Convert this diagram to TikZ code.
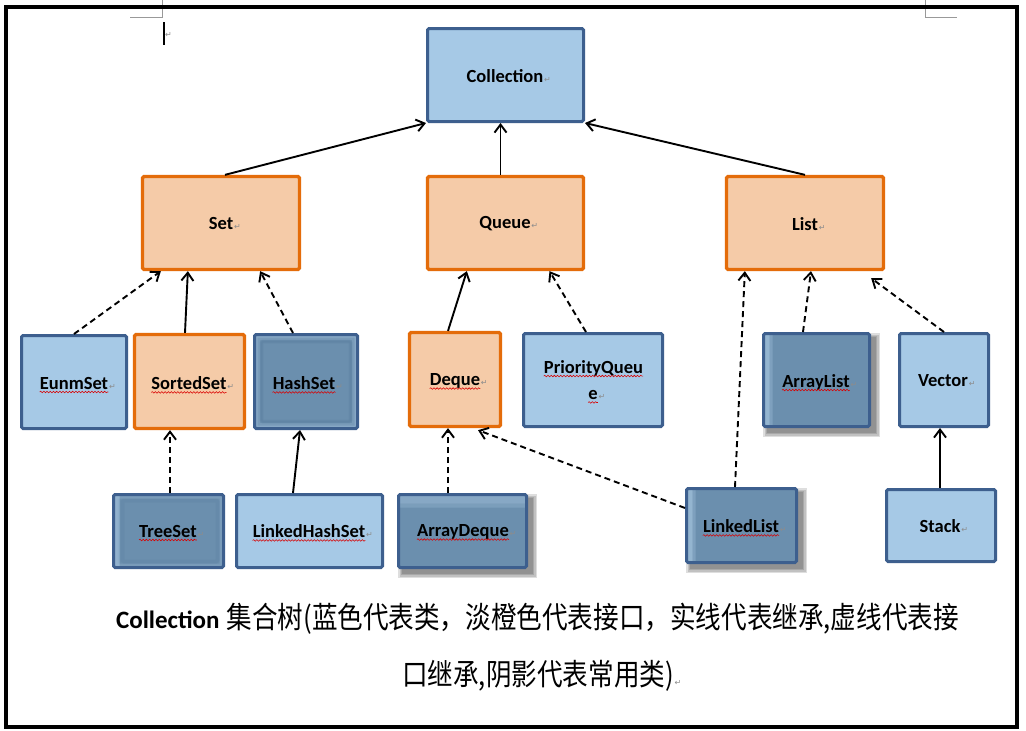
\documentclass[tikz,border=0pt]{standalone}
\usepackage{fontspec}
\setmainfont{Carlito}
\newfontfamily\cjk{Noto Sans CJK SC}
\newfontfamily\dejavu{DejaVu Sans}
\usetikzlibrary{arrows.meta,decorations.pathmorphing,backgrounds}
\definecolor{lblue}{HTML}{A6C9E6}
\definecolor{bborder}{HTML}{3D5F8E}
\definecolor{ofill}{HTML}{F5CBA8}
\definecolor{oborder}{HTML}{E46C0A}
\definecolor{dfill}{HTML}{6B8FAE}
\definecolor{dlight}{HTML}{A3C2DC}
\definecolor{ddark}{HTML}{4F7395}
\newcommand\mywave[1]{\draw[wavy] ([yshift=-3pt]#1.base west) -- ([yshift=-3pt]#1.base east);}
\newcommand\myret[1]{\node[retmark, anchor=base west] at ([xshift=0.5pt]#1.base east) {↵};}
\newcommand\softshadow[1]{%
  \begin{pgfonlayer}{background}
  \foreach \d in {4,2.5,1,0}{
    \fill[black, opacity=0.13] ([shift={({5-\d},{5-\d})}]#1.north west) rectangle ([shift={({5+\d},{5+\d})}]#1.south east);
  }
  \end{pgfonlayer}}
\begin{document}
\begin{tikzpicture}[x=1pt,y=-1pt,
  basebox/.style={rectangle, line width=3pt, inner sep=0pt, rounded corners=1.5pt},
  bluebox/.style={basebox, fill=lblue, draw=bborder},
  orangebox/.style={basebox, fill=ofill, draw=oborder, line width=3.3pt},
  darkbox/.style={basebox, fill=dfill, draw=bborder},
  glow/.style={path picture={
     \draw[dlight, line width=11pt, opacity=0.25] (path picture bounding box.south west) rectangle (path picture bounding box.north east);
     \draw[dlight, line width=6pt, opacity=0.35] (path picture bounding box.south west) rectangle (path picture bounding box.north east);
     \draw[ddark, line width=4pt, opacity=0.15] ([shift={(7,-7)}]path picture bounding box.south west) rectangle ([shift={(-7,7)}]path picture bounding box.north east);
     \draw[ddark, line width=2pt, opacity=0.2] ([shift={(7,-7)}]path picture bounding box.south west) rectangle ([shift={(-7,7)}]path picture bounding box.north east);
  }},
  leftlit/.style={path picture={
     \fill[dlight, opacity=0.75] (path picture bounding box.south west) rectangle ([xshift=6pt]path picture bounding box.north west);
     \fill[dlight, opacity=0.35] ([xshift=6pt]path picture bounding box.south west) rectangle ([xshift=9pt]path picture bounding box.north west);
  }},
  leftglow/.style={path picture={
     \draw[dlight, line width=8pt, opacity=0.25] (path picture bounding box.south west) rectangle (path picture bounding box.north east);
     \fill[dlight, opacity=0.6] (path picture bounding box.south west) rectangle ([xshift=6pt]path picture bounding box.north west);
     \draw[ddark, line width=4pt, opacity=0.15] ([shift={(9,-6)}]path picture bounding box.south west) rectangle ([shift={(-6,6)}]path picture bounding box.north east);
  }},
  toplit/.style={path picture={
     \fill[dlight, opacity=0.5] (path picture bounding box.north west) rectangle ([yshift=-9pt]path picture bounding box.north east);
     \fill[dlight, opacity=0.3] ([yshift=-9pt]path picture bounding box.north west) rectangle ([yshift=-13pt]path picture bounding box.north east);
  }},
  lbl/.style={inner sep=0pt, font=\bfseries\fontsize{18.5}{22}\selectfont, text=black},
  retmark/.style={inner sep=0pt, font=\dejavu\fontsize{8}{8}\selectfont, text=black!45},
  wavy/.style={red!85!black, line width=0.55pt, decorate, decoration={snake, amplitude=0.8pt, segment length=3.2pt}},
  inh/.style={line width=1.9pt, -{Straight Barb[length=8pt,width=12pt,line width=1.9pt]}},
  iface/.style={inh, dash pattern=on 6pt off 4pt},
]
\useasboundingbox (0,0) rectangle (1026,731);
\begin{pgfonlayer}{background}
\fill[white] (0,0) rectangle (1026,731);
\end{pgfonlayer}

% Word page artefacts
\coordinate (tl1) at (130,17); \coordinate (tl2) at (162,17); \coordinate (tl3) at (162,0);
\draw[black!40, line width=1pt] (tl1) -- (tl2) -- (tl3);
\coordinate (tr1) at (925,0); \coordinate (tr2) at (925,17); \coordinate (tr3) at (957,17);
\draw[black!40, line width=1pt] (tr1) -- (tr2) -- (tr3);
\coordinate (cur1) at (164,22); \coordinate (cur2) at (164,45);
\draw[black, line width=2pt] (cur1) -- (cur2);
\node[retmark] (curret) at (168.5,34.5) {↵};

% boxes
\node[bluebox, minimum width=156, minimum height=93] (coll) at (505.5,75) {};
\node[orangebox, minimum width=157, minimum height=93] (set) at (221,223) {};
\node[orangebox, minimum width=156, minimum height=93] (queue) at (505.5,223) {};
\node[orangebox, minimum width=157, minimum height=93] (list) at (805,223) {};
\node[bluebox, minimum width=105, minimum height=93] (eunm) at (74,382) {};
\node[orangebox, minimum width=110, minimum height=94] (sorted) at (189.5,381.5) {};
\node[darkbox, glow, minimum width=103, minimum height=94] (hash) at (306,381.5) {};
\node[orangebox, minimum width=91, minimum height=94] (deque) at (455,379.5) {};
\node[bluebox, minimum width=139, minimum height=93] (pq) at (593,380) {};
\node[darkbox, leftlit, minimum width=106, minimum height=93] (alist) at (816.5,380) {};
\node[bluebox, minimum width=89, minimum height=93] (vector) at (944,380) {};
\node[darkbox, leftglow, minimum width=110, minimum height=73] (tree) at (168.5,531) {};
\node[bluebox, minimum width=146, minimum height=73] (lhs) at (309.5,531) {};
\node[darkbox, toplit, minimum width=128, minimum height=73] (adeque) at (462.5,531) {};
\node[darkbox, leftlit, minimum width=110, minimum height=74] (llist) at (741.5,525.5) {};
\node[bluebox, minimum width=109, minimum height=72] (stack) at (941,525.5) {};

\softshadow{alist}
\softshadow{adeque}
\softshadow{llist}

% labels
\node[lbl] (collT) at (505,76) {Collection}; \myret{collT}
\node[lbl] (setT) at (221,223) {Set}; \myret{setT}
\node[lbl] (queueT) at (505,224) {Queue}; \myret{queueT}
\node[lbl] (listT) at (805,224) {List}; \myret{listT}
\node[lbl] (eunmT) at (74,383) {EunmSet}; \myret{eunmT} \mywave{eunmT}
\node[lbl] (sortedT) at (189,383) {SortedSet}; \myret{sortedT} \mywave{sortedT}
\node[lbl] (hashT) at (304,383) {HashSet}; \myret{hashT} \mywave{hashT}
\node[lbl] (dequeT) at (455,381) {Deque}; \myret{dequeT} \mywave{dequeT}
\node[lbl] (pqT) at (593.5,368) {PriorityQueu}; \mywave{pqT}
\node[lbl] (pqT2) at (593,395) {e}; \myret{pqT2} \mywave{pqT2}
\node[lbl] (alistT) at (816,382) {ArrayList}; \myret{alistT} \mywave{alistT}
\node[lbl] (vectorT) at (943,381) {Vector}; \myret{vectorT}
\node[lbl] (treeT) at (168,531) {TreeSet}; \myret{treeT} \mywave{treeT}
\node[lbl] (lhsT) at (309,531) {LinkedHashSet}; \myret{lhsT} \mywave{lhsT}
\node[lbl] (adequeT) at (463,532) {ArrayDeque}; \myret{adequeT} \mywave{adequeT}
\node[lbl] (llistT) at (741,526) {LinkedList}; \myret{llistT} \mywave{llistT}
\node[lbl] (stackT) at (940,526) {Stack}; \myret{stackT}

% connectors
\draw[inh] ([xshift=4pt]set.north) -- (coll.south west);
\draw[inh] ([xshift=-5pt]queue.north) -- ([xshift=-5pt]coll.south);
\draw[inh] (list.north) -- (coll.south east);
\draw[iface] (eunm.north) -- ([xshift=20pt]set.south west);
\draw[inh] ([xshift=-4.5pt]sorted.north) -- ([xshift=47pt]set.south west);
\draw[iface] ([xshift=-13pt]hash.north) -- ([xshift=-41pt]set.south east);
\draw[inh] ([xshift=-7pt]deque.north) -- ([xshift=41pt]queue.south west);
\draw[iface] ([xshift=-7pt]pq.north) -- ([xshift=44pt]queue.south);
\draw[iface] ([xshift=-13.5pt]alist.north) -- ([xshift=6pt]list.south);
\draw[iface] (vector.north) -- ([shift={(-14pt,-7pt)}]list.south east);
\draw[iface] ([xshift=-6.5pt]llist.north) -- ([xshift=20pt]list.south west);
\draw[iface] ([yshift=17.5pt]llist.west) -- ([shift={(23pt,-2pt)}]deque.south);
\draw[iface] ([xshift=1.5pt]tree.north) -- ([xshift=-19.5pt]sorted.south);
\draw[inh] ([xshift=-16.5pt]lhs.north) -- ([xshift=-6pt]hash.south);
\draw[iface] ([xshift=-14.5pt]adeque.north) -- ([xshift=-7pt]deque.south);
\draw[inh] ([xshift=-1pt]stack.north) -- ([xshift=-4pt]vector.south);

% caption
\node[inner sep=0pt, anchor=center] (cap1) at (537.5,619) {\bfseries\fontsize{25}{25}\selectfont Collection\hspace{7pt}\mdseries\scalebox{0.853}[1]{\cjk\fontsize{30}{30}\selectfont 集合树(蓝色代表类，淡橙色代表接口，实线代表继承,虚线代表接}};
\node[inner sep=0pt, anchor=center] (cap2) at (538,676) {\scalebox{0.853}[1]{\cjk\fontsize{30}{30}\selectfont 口继承,阴影代表常用类)}};
\myret{cap2}

% frame
\coordinate (f1) at (6,7); \coordinate (f2) at (1017,726.5);
\draw[black, line width=4pt] (f1) rectangle (f2);
\end{tikzpicture}
\end{document}
